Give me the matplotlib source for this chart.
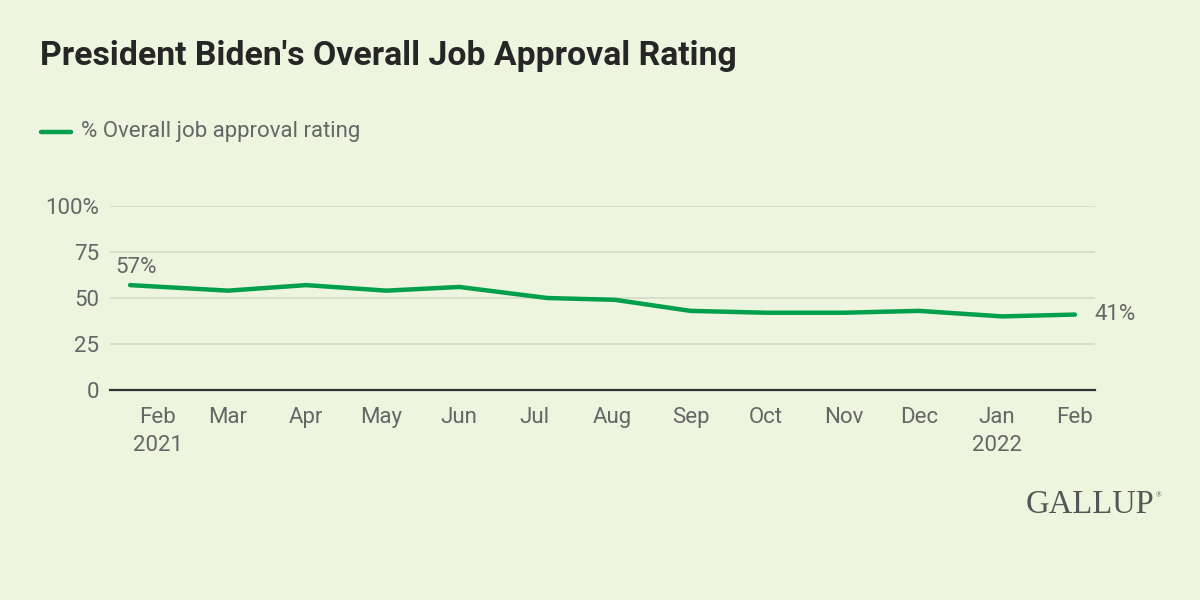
#!/usr/bin/env python3
# Biden job approval line chart, Gallup style

import datetime as dt
import matplotlib
matplotlib.use("Agg")
import matplotlib.pyplot as plt

# poll start dates and approval values
poll_dates = ["2021-01-21", "2021-02-03", "2021-03-01", "2021-04-01", "2021-05-03",
              "2021-06-01", "2021-07-06", "2021-08-02", "2021-09-01", "2021-10-01",
              "2021-11-01", "2021-12-01", "2022-01-03", "2022-02-01"]
approval = [57, 56, 54, 57, 54, 56, 50, 49, 43, 42, 42, 43, 40, 41]

tick_dates = ["2021-02-01", "2021-03-01", "2021-04-01", "2021-05-01", "2021-06-01",
              "2021-07-01", "2021-08-01", "2021-09-01", "2021-10-01", "2021-11-01",
              "2021-12-01", "2022-01-01", "2022-02-01"]
tick_labels = ["Feb\n2021", "Mar", "Apr", "May", "Jun", "Jul", "Aug", "Sep", "Oct",
               "Nov", "Dec", "Jan\n2022", "Feb"]
y_ticks = [0, 25, 50, 75, 100]
y_labels = ["0", "25", "50", "75", "100%"]

BG = "#edf5df"
GREEN = "#009f4d"
GREY = "#666666"

plt.rcParams["font.family"] = ["Roboto", "DejaVu Sans"]

x = [dt.datetime.strptime(d, "%Y-%m-%d") for d in poll_dates]
xt = [dt.datetime.strptime(d, "%Y-%m-%d") for d in tick_dates]

fig = plt.figure(figsize=(12, 6), dpi=100, facecolor=BG)
ax = fig.add_axes([110 / 1200, 0.35, (1095 - 110) / 1200, (390 - 206) / 600])
ax.set_facecolor(BG)

ax.plot(x, approval, color=GREEN, linewidth=3.2, solid_capstyle="round", zorder=3)

ax.set_ylim(0, 100)
ax.set_xlim(dt.datetime(2021, 1, 13), dt.datetime(2022, 2, 9))
ax.set_yticks(y_ticks)
ax.set_yticklabels(y_labels)
ax.set_xticks(xt)
ax.set_xticklabels(tick_labels, linespacing=1.45)

ax.grid(axis="y", color="#d5ddc6", linewidth=1.3)
ax.set_axisbelow(True)
for s in ["top", "right", "left"]:
    ax.spines[s].set_visible(False)
ax.spines["bottom"].set_color("#333333")
ax.spines["bottom"].set_linewidth(1.6)
ax.tick_params(axis="both", length=0, labelsize=16, labelcolor=GREY)
ax.tick_params(axis="x", pad=12)
ax.tick_params(axis="y", pad=8)

# end labels
ax.annotate(f"{approval[0]}%", (x[0], approval[0]), xytext=(-11, 5),
            textcoords="offset points", ha="left", va="bottom",
            fontsize=16, color=GREY)
ax.annotate(f"{approval[-1]}%", (x[-1], approval[-1]), xytext=(14, 0),
            textcoords="offset points", ha="left", va="center",
            fontsize=16, color=GREY)

# title and legend
fig.text(40 / 1200, 1 - 56 / 600, "President Biden's Overall Job Approval Rating",
         fontsize=24.3, fontweight="bold", color="#262626", va="center", ha="left")
fig.add_artist(plt.Line2D([41 / 1200, 71 / 1200], [1 - 132 / 600, 1 - 132 / 600],
                          color=GREEN, linewidth=3.2, solid_capstyle="round"))
fig.text(81 / 1200, 1 - 132 / 600, "% Overall job approval rating",
         fontsize=16, color=GREY, va="center", ha="left")

# logo
fig.text(1154 / 1200, 1 - 505 / 600, "GALLUP", family="Liberation Serif",
         fontsize=23.5, color="#555555", ha="right", va="center")
fig.text(1156 / 1200, 1 - 495 / 600, "\u00ae", family="Liberation Serif",
         fontsize=5.5, color="#555555", ha="left", va="center")

fig.savefig("out.png", dpi=100, facecolor=BG)
